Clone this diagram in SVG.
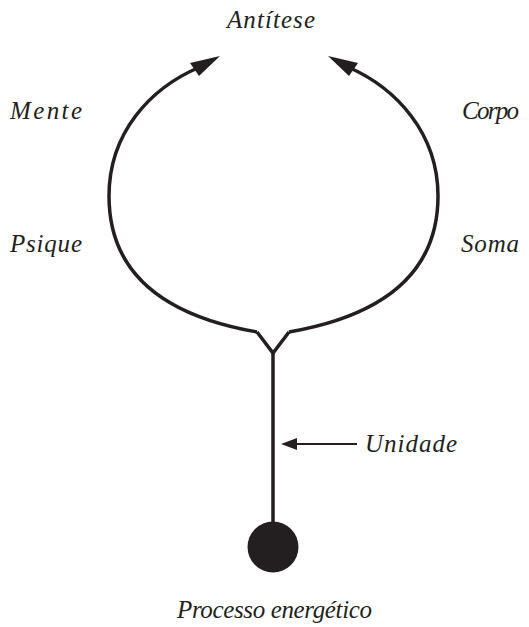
<svg xmlns="http://www.w3.org/2000/svg" width="529" height="627" viewBox="0 0 529 627">
<style>
.t{font-family:"Liberation Serif",serif;font-style:italic;font-size:25px;fill:#231f20}
.c{fill:none;stroke:#231f20;stroke-width:3.5}
.h{fill:#231f20}
</style>
<rect width="529" height="627" fill="#fff"/>
<g id="connectors">
<path class="c" d="M257,332 C165,316 109,275 109,196 C109,133 150,88 200,67"/>
<path class="c" d="M289,332 C381,316 438,275 438,196 C438,133 396,88 348,67"/>
<polyline class="c" points="257,332 273,353 289,332" stroke-linejoin="miter"/>
<line class="c" x1="273" y1="353" x2="273" y2="525"/>
<polygon class="h" points="220,56 190,63 199,76"/>
<polygon class="h" points="328,56 358,63 349,76"/>
<line x1="357" y1="444" x2="292" y2="444" stroke="#231f20" stroke-width="1.8"/>
<polygon class="h" points="281,444 297,438 297,450"/>
</g>
<g id="energy"><circle cx="273" cy="547" r="25.5" fill="#231f20"/><text class="t" x="177" y="618" textLength="195" lengthAdjust="spacing">Processo energético</text></g>
<g id="antitese"><text class="t" x="227" y="28" textLength="88" lengthAdjust="spacing">Antítese</text></g>
<g id="mente"><text class="t" x="10" y="119" textLength="72" lengthAdjust="spacing">Mente</text></g>
<g id="corpo"><text class="t" x="462" y="119" textLength="57" lengthAdjust="spacing">Corpo</text></g>
<g id="psique"><text class="t" x="10" y="252" textLength="72" lengthAdjust="spacing">Psique</text></g>
<g id="soma"><text class="t" x="461" y="252" textLength="58" lengthAdjust="spacing">Soma</text></g>
<g id="unidade"><text class="t" x="365" y="452" textLength="92" lengthAdjust="spacing">Unidade</text></g>
</svg>
